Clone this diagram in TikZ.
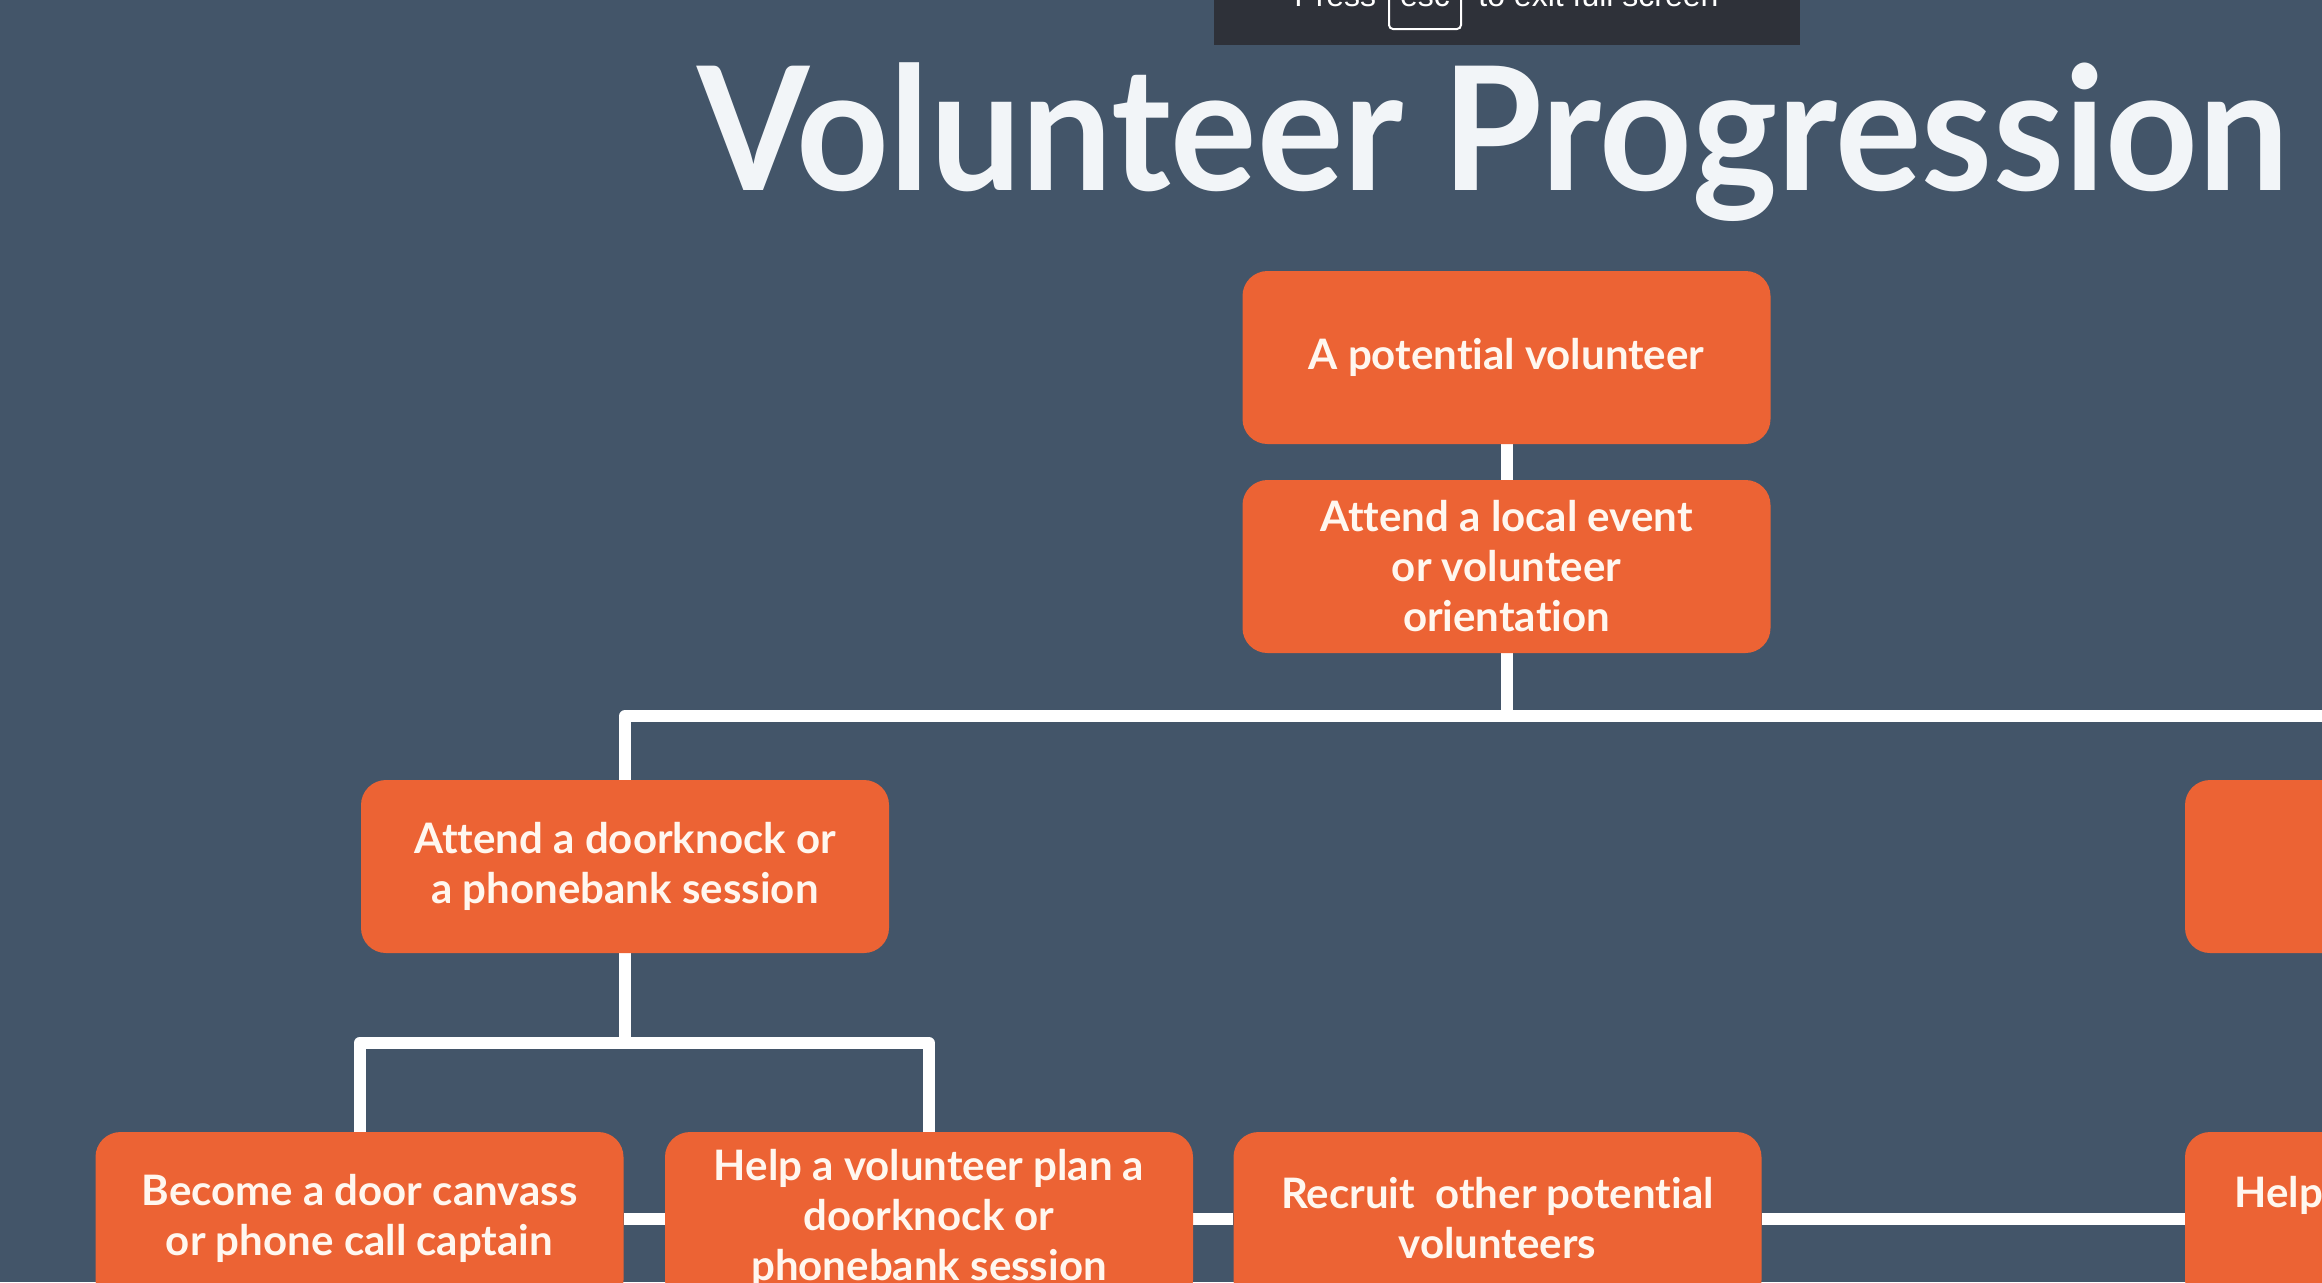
\documentclass[tikz,border=0pt]{standalone}
\usepackage{fontspec}
\setmainfont{Lato}[Ligatures={NoCommon}]
\newfontfamily\uifont{Liberation Sans}
\definecolor{bgcol}{HTML}{435569}
\definecolor{boxcol}{HTML}{EC6334}
\definecolor{txtcol}{HTML}{FFF7EF}
\definecolor{titlecol}{HTML}{F2F5F8}
\definecolor{barcol}{HTML}{2E3139}
\pgfdeclarelayer{back}
\pgfsetlayers{back,main}
\tikzset{
  stepbox/.style={fill=boxcol, rounded corners=12.5pt, minimum width=264pt, minimum height=86.5pt,
    align=center, text=txtcol, font=\bfseries\fontsize{21}{25}\selectfont, inner sep=0pt},
  conn/.style={draw=white, line width=6pt, line join=round},
  uitext/.style={text=white, font=\uifont\fontsize{16}{19}\selectfont, inner sep=0pt, anchor=base west}
}
\begin{document}
\begin{tikzpicture}[x=0.5pt,y=-0.5pt]
\useasboundingbox (0,0) rectangle (2322,1282);
% title
\node[text=titlecol, font=\bfseries\fontsize{86}{100}\selectfont, inner sep=0pt, anchor=base] (title) at (1493,190) {\scalebox{0.94}[1]{Volunteer Progression}};
% boxes
\node[stepbox] (A) at (1506.5,357.5) {A potential volunteer};
\node[stepbox] (B) at (1506.5,566.5) {Attend a local event\\or volunteer\\orientation};
\node[stepbox] (C) at (625,866.5) {Attend a doorknock or\\a phonebank session};
\node[stepbox] (H) at (2449,866.5) {};
\node[stepbox] (D) at (359.5,1218.5) {Become a door canvass\\or phone call captain};
\node[stepbox] (E) at (929,1218.5) {Help a volunteer plan a\\doorknock or\\phonebank session};
\node[stepbox] (F) at (1497.5,1218.5) {Recruit\ \ other potential\\volunteers};
\node[stepbox] (G) at (2449,1218.5) {};
\node[text=txtcol, font=\bfseries\fontsize{21}{25}\selectfont, inner sep=0pt, anchor=base west] (Gtext) at (2234,1207) {Help};
% full-screen banner
\fill[barcol] (1214,-10) rectangle (1800,45);
\node[uitext] (press) at (1294,6) {Press};
\node[uitext, anchor=base] (esc) at (1425,6) {esc};
\draw[white, line width=1pt, rounded corners=2pt] (1389,-30) rectangle (1461,29);
\node[uitext] (exit) at (1478,6) {to exit full screen};
% connectors
\begin{pgfonlayer}{back}
\fill[bgcol] (0,0) rectangle (2322,1282);
\draw[conn] (A.south) -- (B.north);
\draw[conn] (B.south) -- (1506.5,716) -| (C.north);
\draw[conn] (1506.5,716) -| (H.north);
\draw[conn] (C.south) -- (625,1043) -| (D.north);
\draw[conn] (625,1043) -| (E.north);
\draw[conn] (D.east) -- (E.west);
\draw[conn] (E.east) -- (F.west);
\draw[conn] (F.east) -- (G.west);
\end{pgfonlayer}
\end{tikzpicture}
\end{document}
